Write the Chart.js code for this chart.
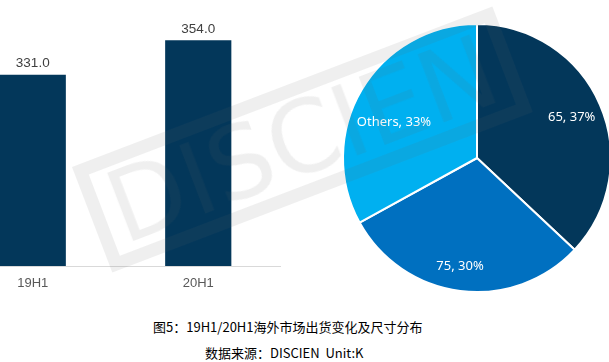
<!DOCTYPE html>
<html><head><meta charset="utf-8">
<script src="https://cdn.jsdelivr.net/npm/chart.js@4/dist/chart.umd.min.js"></script>
<style>
html,body{margin:0;padding:0;width:609px;height:362px;overflow:hidden;background:#fff;}
#wm{position:absolute;left:72px;top:167px;width:450px;height:113px;box-sizing:border-box;border:13px solid rgba(100,100,100,0.1);transform-origin:0 0;transform:rotate(-20.9deg);font-family:'DejaVu Sans';font-size:100px;line-height:87px;color:rgba(100,100,100,0.1);text-align:left;padding-left:8px;white-space:nowrap;overflow:hidden;z-index:5;}
#barBox{position:absolute;left:-50px;top:0;width:331px;height:300px;}
#pieBox{position:absolute;left:327px;top:8px;width:300px;height:300px;}
.cap{position:absolute;font-family:'Noto Sans CJK SC';font-size:13px;line-height:13px;color:#000;white-space:nowrap;}
</style></head>
<body>
<div id="barBox"><canvas id="bar" width="331" height="300"></canvas></div>
<div id="pieBox"><canvas id="pie" width="300" height="300"></canvas></div>
<div id="wm">DISCIEN</div>
<div class="cap" style="left:153px;top:320px;">图5：19H1/20H1海外市场出货变化及尺寸分布</div>
<div class="cap" style="left:205px;top:346px;">数据来源：DISCIEN&nbsp;&nbsp;Unit:K</div>
<script>
const barCategories = ['19H1', '20H1'];
const barValues = [331.0, 354.0];
const pieLabels = ['65', '75', 'Others'];
const pieShares = [37, 30, 33];

const navy = '#03375a';

const barLabelPlugin = {
  id: 'barLabels',
  afterDatasetsDraw(chart) {
    const ctx = chart.ctx;
    const meta = chart.getDatasetMeta(0);
    ctx.save();
    ctx.font = '13.5px "Liberation Sans"';
    ctx.fillStyle = '#404040';
    ctx.textAlign = 'center';
    ctx.textBaseline = 'alphabetic';
    meta.data.forEach((el, i) => {
      ctx.fillText(chart.data.datasets[0].data[i].toFixed(1), el.x, el.y - 7.5);
    });
    ctx.restore();
  }
};

new Chart(document.getElementById('bar'), {
  type: 'bar',
  data: {
    labels: barCategories,
    datasets: [{ data: barValues, backgroundColor: navy, barPercentage: 0.4, categoryPercentage: 1.0 }]
  },
  options: {
    responsive: false,
    animation: false,
    layout: { padding: 0 },
    plugins: { legend: { display: false }, tooltip: { enabled: false } },
    scales: {
      x: {
        grid: { display: false },
        border: { display: true, color: '#d9d9d9', width: 1 },
        ticks: { color: '#595959', font: { family: 'Liberation Sans', size: 13 }, padding: 2 },
        afterFit(s) { s.height = 34; }
      },
      y: { display: false, min: 203, max: 381 }
    }
  },
  plugins: [barLabelPlugin]
});

const labelRadius = [0.77, 0.82, 0.675];
const labelAngleShift = [0, 1.7, -7.2];

const pieLabelPlugin = {
  id: 'pieLabels',
  afterDatasetsDraw(chart) {
    const ctx = chart.ctx;
    const meta = chart.getDatasetMeta(0);
    ctx.save();
    ctx.font = '13px "Noto Sans"';
    ctx.fillStyle = '#ffffff';
    ctx.textAlign = 'center';
    ctx.textBaseline = 'middle';
    meta.data.forEach((el, i) => {
      const a = (el.startAngle + el.endAngle) / 2 + labelAngleShift[i] * Math.PI / 180;
      const r = el.outerRadius * labelRadius[i];
      ctx.fillText(pieLabels[i] + ', ' + pieShares[i] + '%', el.x + Math.cos(a) * r, el.y + Math.sin(a) * r);
    });
    ctx.restore();
  }
};

new Chart(document.getElementById('pie'), {
  type: 'pie',
  data: {
    labels: pieLabels,
    datasets: [{ data: pieShares, backgroundColor: [navy, '#0070c0', '#00b0f0'], borderColor: '#ffffff', borderWidth: 2 }]
  },
  options: {
    responsive: false,
    animation: false,
    radius: 134,
    layout: { padding: 0 },
    plugins: { legend: { display: false }, tooltip: { enabled: false } }
  },
  plugins: [pieLabelPlugin]
});
</script>
</body></html>
